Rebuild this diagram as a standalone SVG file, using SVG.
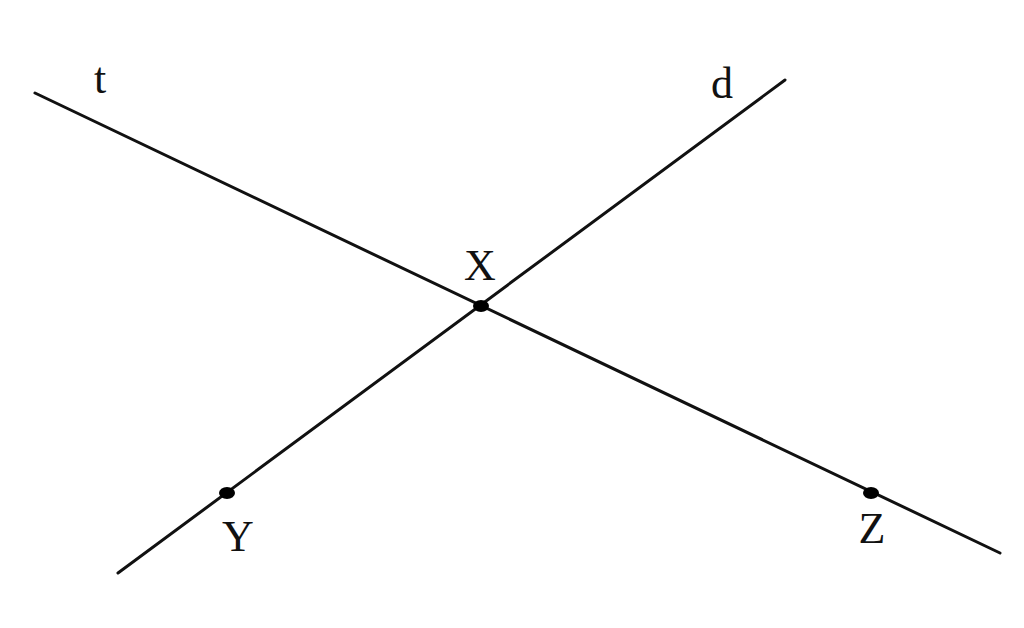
<svg xmlns="http://www.w3.org/2000/svg" width="1024" height="628" viewBox="0 0 1024 628">
<style>
.ln{stroke:#111;stroke-width:3;fill:none;stroke-linecap:round}
.pt{fill:#000}
.lb{font-family:"Liberation Serif","Times New Roman",serif;font-size:44px;fill:#111;text-anchor:middle}
</style>
<rect width="1024" height="628" fill="#fff"/>
<g id="connectors">
<line id="line-t" class="ln" x1="35" y1="93" x2="1000" y2="553"/>
<line id="line-d" class="ln" x1="785" y1="80" x2="118" y2="573"/>
</g>
<g id="label-t"><text class="lb" x="100" y="93">t</text></g>
<g id="label-d"><text class="lb" x="722" y="98">d</text></g>
<g id="node-X"><ellipse class="pt" cx="481" cy="306" rx="8" ry="6"/><text class="lb" x="480" y="280">X</text></g>
<g id="node-Y"><ellipse class="pt" cx="227" cy="493" rx="8" ry="6"/><text class="lb" x="238" y="551">Y</text></g>
<g id="node-Z"><ellipse class="pt" cx="871" cy="493" rx="8" ry="6"/><text class="lb" x="872" y="543">Z</text></g>
</svg>
